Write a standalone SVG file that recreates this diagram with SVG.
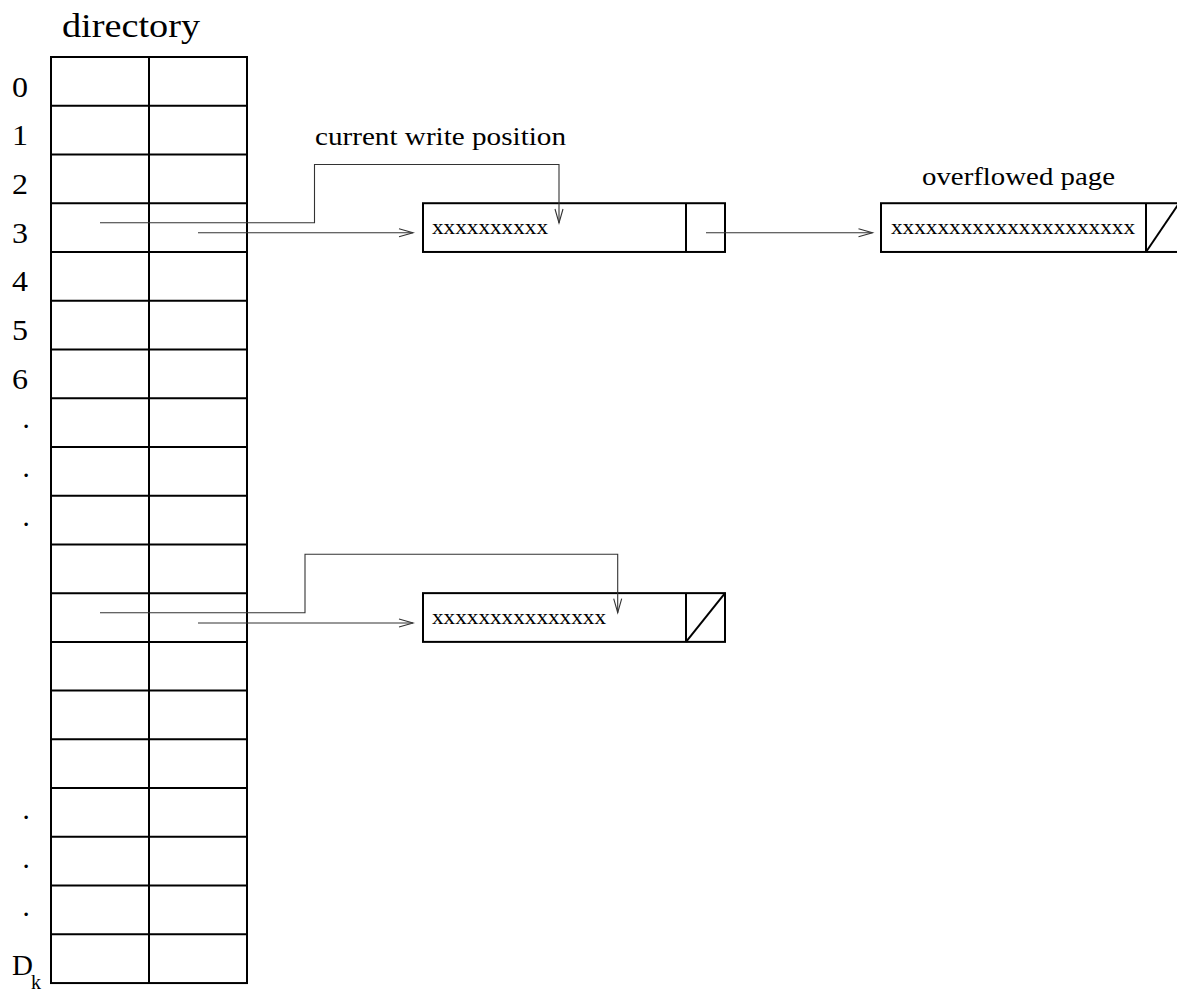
<svg xmlns="http://www.w3.org/2000/svg" width="1177" height="991" viewBox="0 0 1177 991">
<style>
  text { font-family: "Times New Roman", Times, "Liberation Serif", "Nimbus Roman", "Nimbus Roman No9 L", Tinos, serif; fill: #000; }
  .grid { stroke: #000; stroke-width: 2; fill: none; }
  .box { stroke: #000; stroke-width: 2; fill: #fff; }
  .conn { stroke: #333; stroke-width: 1.1; fill: none; }
  .lbl { font-size: 29px; }
  .big { font-size: 34px; }
  .cap { font-size: 26px; }
  .pg { font-size: 20px; }
</style>
<defs>
  <marker id="arr" markerUnits="userSpaceOnUse" markerWidth="16" markerHeight="10" refX="14" refY="5" orient="auto" overflow="visible">
    <path d="M0,1 L14,5 L0,9" fill="none" stroke="#333" stroke-width="1.1"/>
  </marker>
</defs>

<g id="directory">
  <text class="big" x="62" y="37" textLength="138" lengthAdjust="spacingAndGlyphs">directory</text>
  <rect class="grid" x="51" y="57" width="196" height="926.06"/>
  <line class="grid" x1="149" y1="57" x2="149" y2="983.06"/>
  <path class="grid" d="M51,105.74H247 M51,154.48H247 M51,203.22H247 M51,251.96H247 M51,300.7H247 M51,349.44H247 M51,398.18H247 M51,446.92H247 M51,495.66H247 M51,544.4H247 M51,593.14H247 M51,641.88H247 M51,690.62H247 M51,739.36H247 M51,788.1H247 M51,836.84H247 M51,885.58H247 M51,934.32H247"/>
  <text class="lbl" x="12" y="97" textLength="16" lengthAdjust="spacingAndGlyphs">0</text>
  <text class="lbl" x="12" y="145" textLength="16" lengthAdjust="spacingAndGlyphs">1</text>
  <text class="lbl" x="12" y="194" textLength="16" lengthAdjust="spacingAndGlyphs">2</text>
  <text class="lbl" x="12" y="242.6" textLength="16" lengthAdjust="spacingAndGlyphs">3</text>
  <text class="lbl" x="12" y="291.3" textLength="16" lengthAdjust="spacingAndGlyphs">4</text>
  <text class="lbl" x="12" y="340" textLength="16" lengthAdjust="spacingAndGlyphs">5</text>
  <text class="lbl" x="12" y="388.8" textLength="16" lengthAdjust="spacingAndGlyphs">6</text>
  <text class="lbl" x="22.4" y="428.2">.</text>
  <text class="lbl" x="22.4" y="477.2">.</text>
  <text class="lbl" x="22.4" y="525.8">.</text>
  <text class="lbl" x="22.4" y="819.2">.</text>
  <text class="lbl" x="22.4" y="867.5">.</text>
  <text class="lbl" x="22.4" y="916.2">.</text>
  <text class="lbl" x="12" y="975" font-size="30">D</text>
  <text x="31" y="989" font-size="20">k</text>
</g>

<g id="page1">
  <rect class="box" x="423" y="203.22" width="302" height="48.74"/>
  <line class="grid" x1="686" y1="203.22" x2="686" y2="251.96"/>
  <text class="pg" x="432" y="234" textLength="116" lengthAdjust="spacingAndGlyphs">xxxxxxxxxx</text>
</g>

<g id="label-current">
  <text class="cap" x="315" y="145" textLength="251" lengthAdjust="spacingAndGlyphs">current write position</text>
</g>

<g id="overflow-page">
  <text class="cap" x="922" y="184.5" textLength="193" lengthAdjust="spacingAndGlyphs">overflowed page</text>
  <rect class="box" x="881" y="203.22" width="298" height="48.74"/>
  <line class="grid" x1="1146" y1="203.22" x2="1146" y2="251.96"/>
  <line class="grid" x1="1146" y1="251.96" x2="1179" y2="203.22" stroke-width="1.5"/>
  <text class="pg" x="891" y="234" textLength="244" lengthAdjust="spacingAndGlyphs">xxxxxxxxxxxxxxxxxxxxx</text>
</g>

<g id="page2">
  <rect class="box" x="423" y="593.14" width="302" height="48.74"/>
  <line class="grid" x1="686" y1="593.14" x2="686" y2="641.88"/>
  <line class="grid" x1="686" y1="641.88" x2="725" y2="593.14" stroke-width="1.5"/>
  <text class="pg" x="432" y="623.5" textLength="174" lengthAdjust="spacingAndGlyphs">xxxxxxxxxxxxxxx</text>
</g>

<g id="connectors">
  <polyline class="conn" points="100,222.7 314.5,222.7 314.5,164.5 559,164.5 559,223" marker-end="url(#arr)"/>
  <line class="conn" x1="198" y1="232.7" x2="413" y2="232.7" marker-end="url(#arr)"/>
  <line class="conn" x1="706" y1="232.7" x2="872.5" y2="232.7" marker-end="url(#arr)"/>
  <polyline class="conn" points="100,612.7 305,612.7 305,554.3 617.7,554.3 617.7,612.7" marker-end="url(#arr)"/>
  <line class="conn" x1="198" y1="623" x2="413" y2="623" marker-end="url(#arr)"/>
</g>
</svg>
